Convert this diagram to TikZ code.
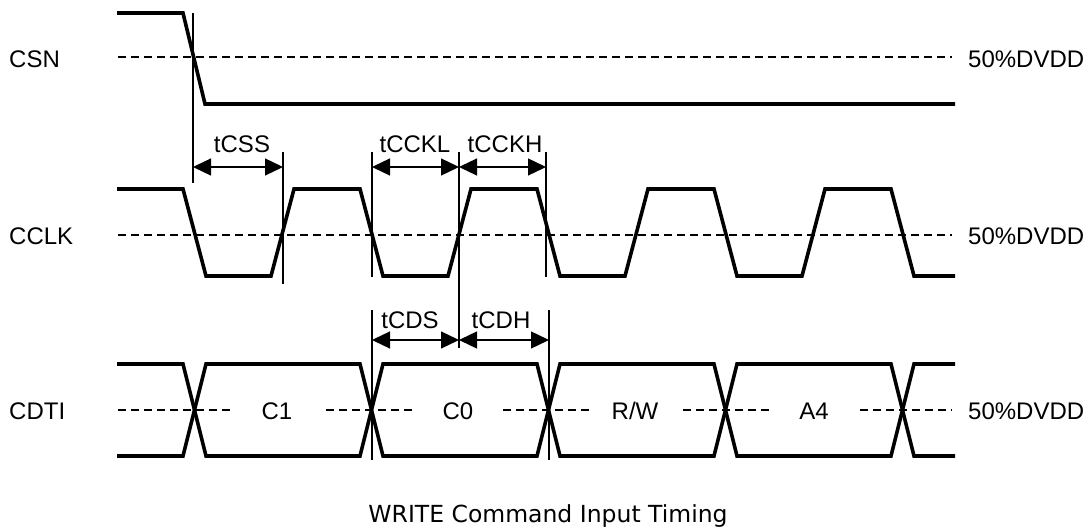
\documentclass[tikz,border=0pt]{standalone}
\usepackage{fontspec}
\setmainfont{Liberation Sans}
\newfontfamily\captionfont{DejaVu Sans}
\usetikzlibrary{arrows.meta}

\begin{document}
\begin{tikzpicture}[x=1pt,y=-1pt,
  wave/.style={line width=3.6pt,line join=miter},
  refline/.style={line width=1.4pt,dash pattern=on 8pt off 5pt},
  marker/.style={line width=1.2pt},
  tarrow/.style={line width=1.3pt,{Triangle[length=18pt,width=17pt]}-{Triangle[length=18pt,width=17pt]}},
  lbl/.style={inner sep=0pt,font=\fontsize{24}{28}\selectfont}]

\useasboundingbox (0,0) rectangle (1091,529);

% CSN signal
\node[lbl,anchor=west] (csn) at (9,59) {CSN};
\node[lbl,anchor=west] (csnref) at (968,59) {50\%DVDD};
\draw[refline] (118,57) -- (952,57);
\draw[wave] (117,13) -- (183,13) -- (205,104) -- (955,104);

% CCLK signal
\node[lbl,anchor=west] (cclk) at (9,236) {CCLK};
\node[lbl,anchor=west] (cclkref) at (968,236) {50\%DVDD};
\draw[refline] (118,235) -- (952,235);
\draw[wave] (117,189) -- (183,189) -- (206,276) -- (271,276) -- (294,189)
  -- (360,189) -- (383,276) -- (448,276) -- (471,189) -- (537,189) -- (560,276)
  -- (625,276) -- (648,189) -- (714,189) -- (737,276) -- (802,276) -- (825,189)
  -- (891,189) -- (914,276) -- (955,276);

% CDTI bus
\node[lbl,anchor=west] (cdti) at (9,411) {CDTI};
\node[lbl,anchor=west] (cdtiref) at (968,411) {50\%DVDD};
\draw[refline] (118,410) -- (233,410);
\draw[refline] (326,410) -- (415,410);
\draw[refline] (503,410) -- (593,410);
\draw[refline] (683,410) -- (770,410);
\draw[refline] (860,410) -- (952,410);
\draw[wave] (117,364) -- (183,364) -- (206,456) -- (360,456) -- (383,364)
  -- (537,364) -- (560,456) -- (714,456) -- (737,364) -- (891,364) -- (914,456)
  -- (955,456);
\draw[wave] (117,456) -- (183,456) -- (206,364) -- (360,364) -- (383,456)
  -- (537,456) -- (560,364) -- (714,364) -- (737,456) -- (891,456) -- (914,364)
  -- (955,364);
\node[lbl,anchor=base] (c1) at (277,419) {C1};
\node[lbl,anchor=base] (c0) at (458,419) {C0};
\node[lbl,anchor=base] (rw) at (635,419) {R/W};
\node[lbl,anchor=base] (a4) at (814,419) {A4};

% marker lines
\draw[marker] (193,13) -- (193,183);
\draw[marker] (283,152) -- (283,284);
\draw[marker] (372,152) -- (372,277);
\draw[marker] (459,152) -- (459,348);
\draw[marker] (546,152) -- (546,277);
\draw[marker] (372,310) -- (372,460);
\draw[marker] (549,310) -- (549,460);

% clock timing arrows
\coordinate (cssL) at (193,167);
\coordinate (cssR) at (283,167);
\coordinate (cckL) at (372,167);
\coordinate (cckM) at (459,167);
\coordinate (cckR) at (546,167);
\draw[tarrow] (cssL) -- (cssR);
\draw[tarrow] (cckL) -- (cckM);
\draw[tarrow] (cckM) -- (cckR);
\node[lbl,anchor=base] (tcss) at (242,153) {tCSS};
\node[lbl,anchor=base] (tcckl) at (415,153) {tCCKL};
\node[lbl,anchor=base] (tcckh) at (505,153) {tCCKH};

% data timing arrows
\coordinate (cdL) at (372,340);
\coordinate (cdM) at (459,340);
\coordinate (cdR) at (549,340);
\draw[tarrow] (cdL) -- (cdM);
\draw[tarrow] (cdM) -- (cdR);
\node[lbl,anchor=base] (tcds) at (410,328) {tCDS};
\node[lbl,anchor=base] (tcdh) at (501,328) {tCDH};

% caption
\node[inner sep=0pt,anchor=base,font=\captionfont\fontsize{23.5}{28}\selectfont] (title) at (548,522) {WRITE Command Input Timing};

\end{tikzpicture}
\end{document}
